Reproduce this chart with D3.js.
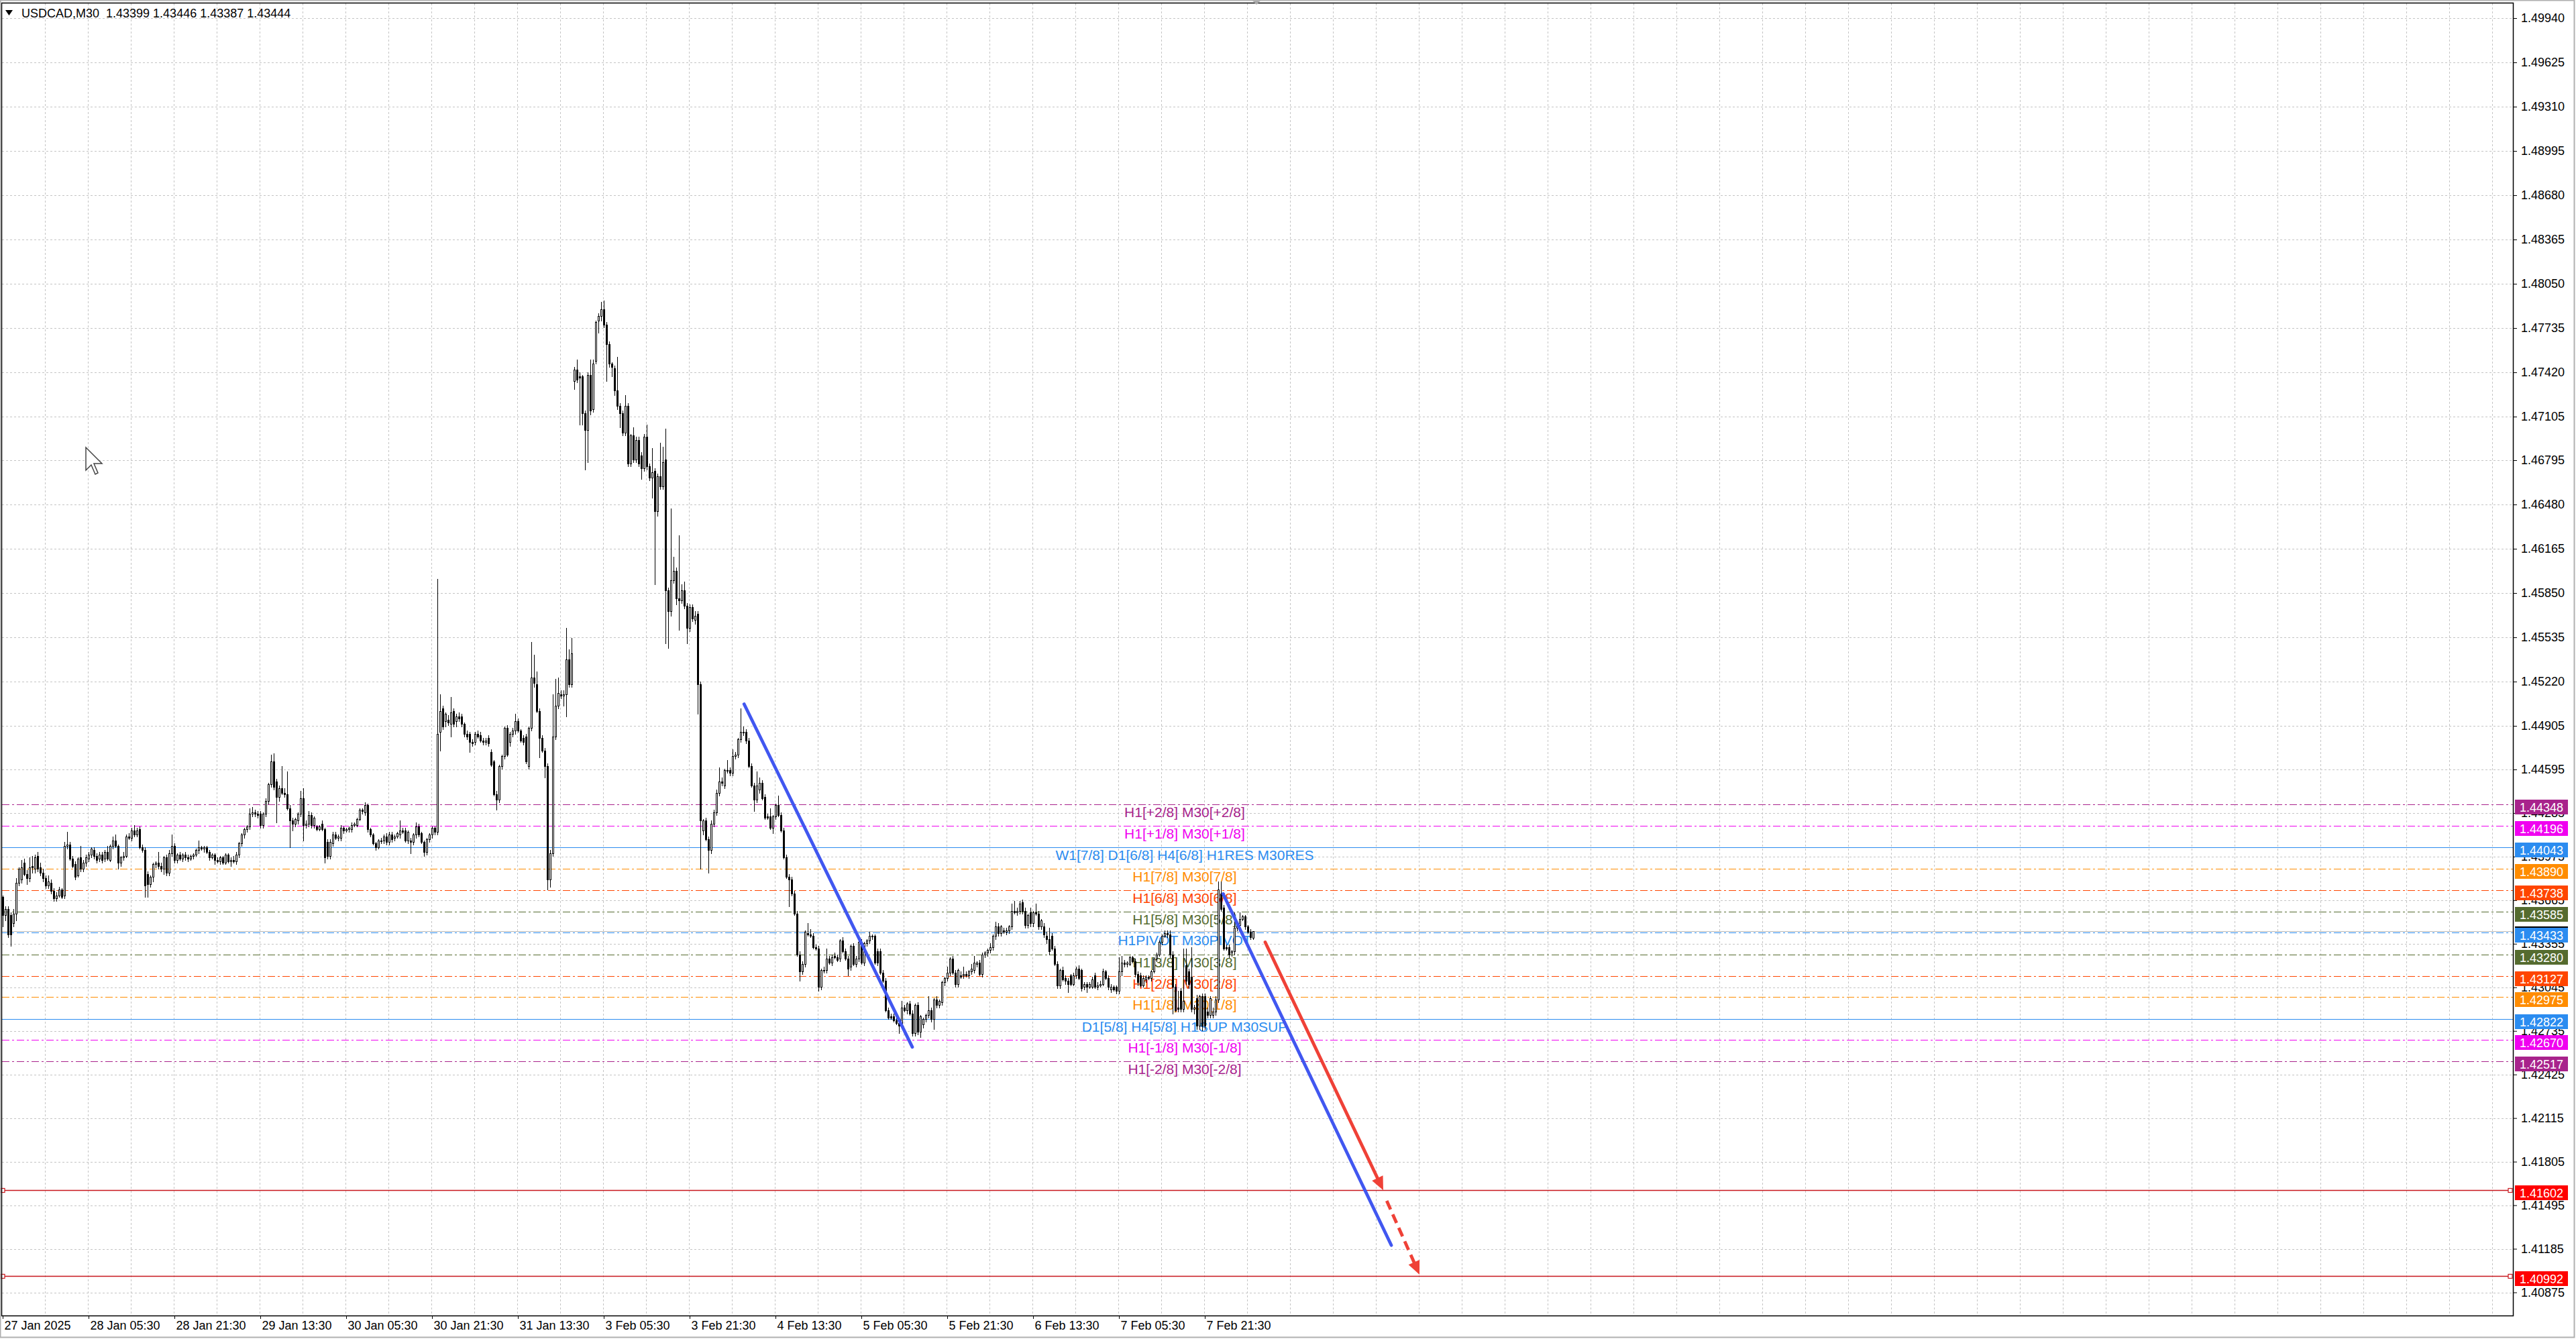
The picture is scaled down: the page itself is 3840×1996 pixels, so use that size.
<!DOCTYPE html>
<html>
<head>
<meta charset="utf-8">
<script src="https://cdn.jsdelivr.net/npm/d3@7"></script>
<style>
html, body { margin: 0; padding: 0; background: #fff; }
svg { display: block; font-family: "Liberation Sans", Arial, sans-serif; }
</style>
</head>
<body>
<div id="chart"></div>
<script>
// USDCAD M30 candles (bar 0 = first bar on the left)
const opens = [
  1.4369,1.4356,1.4360,1.4356,1.4350,1.4357,1.4379,1.4381,1.4393,1.4385,
  1.4382,1.4391,1.4389,1.4398,1.4390,1.4386,1.4382,1.4377,1.4379,1.4373,
  1.4368,1.4370,1.4374,1.4370,1.4405,1.4406,1.4396,1.4392,1.4384,1.4397,
  1.4389,1.4393,1.4396,1.4399,1.4402,1.4398,1.4396,1.4399,1.4396,1.4401,
  1.4395,1.4405,1.4409,1.4405,1.4393,1.4397,1.4398,1.4412,1.4411,1.4416,
  1.4413,1.4417,1.4404,1.4402,1.4385,1.4378,1.4383,1.4392,1.4393,1.4391,
  1.4389,1.4397,1.4386,1.4400,1.4405,1.4395,1.4399,1.4396,1.4399,1.4397,
  1.4396,1.4398,1.4399,1.4402,1.4404,1.4403,1.4404,1.4401,1.4397,1.4399,
  1.4395,1.4394,1.4397,1.4393,1.4399,1.4394,1.4395,1.4394,1.4399,1.4407,
  1.4413,1.4417,1.4419,1.4428,1.4429,1.4428,1.4428,1.4420,1.4428,1.4437,
  1.4449,1.4465,1.4451,1.4440,1.4446,1.4443,1.4442,1.4432,1.4423,1.4421,
  1.4423,1.4428,1.4439,1.4420,1.4421,1.4427,1.4420,1.4419,1.4417,1.4421,
  1.4417,1.4408,1.4398,1.4407,1.4413,1.4411,1.4411,1.4418,1.4416,1.4417,
  1.4417,1.4420,1.4420,1.4424,1.4431,1.4429,1.4434,1.4417,1.4413,1.4407,
  1.4404,1.4409,1.4409,1.4412,1.4408,1.4413,1.4411,1.4412,1.4413,1.4416,
  1.4416,1.4409,1.4409,1.4408,1.4413,1.4419,1.4414,1.4408,1.4401,1.4410,
  1.4413,1.4418,1.4415,1.4486,1.4503,1.4494,1.4495,1.4492,1.4501,1.4494,
  1.4497,1.4497,1.4492,1.4485,1.4485,1.4479,1.4479,1.4485,1.4484,1.4480,
  1.4479,1.4482,1.4472,1.4465,1.4442,1.4438,1.4462,1.4469,1.4489,1.4479,
  1.4485,1.4487,1.4494,1.4487,1.4482,1.4483,1.4462,1.4489,1.4525,1.4520,
  1.4501,1.4482,1.4473,1.4462,1.4381,1.4400,1.4483,1.4505,1.4513,1.4512,
  1.4513,1.4538,1.4520,1.4736,1.4744,1.4739,1.4739,1.4713,1.4701,1.4740,
  1.4716,1.4750,1.4779,1.4782,1.4787,1.4776,1.4762,1.4748,1.4745,1.4729,
  1.4718,1.4713,1.4699,1.4718,1.4677,1.4697,1.4680,1.4694,1.4683,1.4674,
  1.4696,1.4675,1.4667,1.4672,1.4643,1.4668,1.4661,1.4680,1.4587,1.4572,
  1.4594,1.4601,1.4581,1.4580,1.4587,1.4576,1.4560,1.4575,1.4566,1.4570,
  1.4520,1.4416,1.4423,1.4410,1.4402,1.4421,1.4429,1.4443,1.4451,1.4448,
  1.4459,1.4459,1.4457,1.4469,1.4470,1.4481,1.4486,1.4486,1.4480,1.4462,
  1.4448,1.4438,1.4445,1.4450,1.4440,1.4426,1.4426,1.4418,1.4426,1.4434,
  1.4427,1.4416,1.4397,1.4383,1.4381,1.4371,1.4357,1.4328,1.4316,1.4321,
  1.4343,1.4342,1.4341,1.4333,1.4332,1.4305,1.4317,1.4317,1.4325,1.4322,
  1.4327,1.4326,1.4325,1.4338,1.4330,1.4325,1.4319,1.4334,1.4321,1.4325,
  1.4337,1.4322,1.4336,1.4338,1.4341,1.4341,1.4330,1.4330,1.4315,1.4309,
  1.4288,1.4284,1.4284,1.4281,1.4279,1.4278,1.4290,1.4288,1.4293,1.4286,
  1.4272,1.4292,1.4273,1.4278,1.4282,1.4285,1.4288,1.4282,1.4296,1.4292,
  1.4294,1.4308,1.4311,1.4315,1.4325,1.4315,1.4307,1.4313,1.4313,1.4314,
  1.4313,1.4316,1.4317,1.4321,1.4322,1.4314,1.4328,1.4329,1.4331,1.4333,
  1.4341,1.4348,1.4343,1.4345,1.4344,1.4345,1.4348,1.4359,1.4358,1.4359,
  1.4365,1.4359,1.4349,1.4358,1.4350,1.4358,1.4357,1.4348,1.4348,1.4341,
  1.4339,1.4341,1.4332,1.4321,1.4306,1.4317,1.4311,1.4309,1.4313,1.4307,
  1.4313,1.4318,1.4317,1.4305,1.4307,1.4305,1.4305,1.4313,1.4305,1.4306,
  1.4307,1.4316,1.4311,1.4303,1.4305,1.4305,1.4302,1.4316,1.4322,1.4321,
  1.4321,1.4326,1.4323,1.4314,1.4313,1.4306,1.4310,1.4312,1.4311,1.4316,
  1.4325,1.4328,1.4337,1.4341,1.4343,1.4342,1.4328,1.4305,1.4290,1.4302,
  1.4289,1.4320,1.4316,1.4312,1.4289,1.4297,1.4277,1.4298,1.4298,1.4287,
  1.4285,1.4285,1.4287,1.4296,1.4371,1.4361,1.4333,1.4333,1.4329,1.4330,
  1.4347,1.4349,1.4353,1.4355,1.4348,1.4344,1.43399
];
const highs = [
  1.4370,1.4362,1.4362,1.4358,1.4360,1.4382,1.4390,1.4395,1.4396,1.4388,
  1.4397,1.4398,1.4399,1.4401,1.4393,1.4389,1.4384,1.4384,1.4381,1.4375,
  1.4372,1.4376,1.4375,1.4408,1.4415,1.4408,1.4398,1.4394,1.4397,1.4405,
  1.4395,1.4399,1.4401,1.4404,1.4404,1.4400,1.4401,1.4401,1.4402,1.4405,
  1.4406,1.4412,1.4413,1.4406,1.4398,1.4401,1.4413,1.4414,1.4418,1.4420,
  1.4418,1.4419,1.4406,1.4404,1.4387,1.4384,1.4393,1.4394,1.4401,1.4393,
  1.4398,1.4399,1.4402,1.4413,1.4407,1.4400,1.4401,1.4400,1.4401,1.4399,
  1.4399,1.4400,1.4403,1.4409,1.4405,1.4405,1.4405,1.4402,1.4400,1.4400,
  1.4397,1.4398,1.4398,1.4400,1.4400,1.4397,1.4398,1.4401,1.4408,1.4414,
  1.4418,1.4420,1.4432,1.4433,1.4431,1.4430,1.4430,1.4429,1.4439,1.4450,
  1.4470,1.4471,1.4453,1.4448,1.4462,1.4446,1.4458,1.4434,1.4425,1.4425,
  1.4429,1.4444,1.4446,1.4423,1.4430,1.4429,1.4426,1.4420,1.4420,1.4423,
  1.4418,1.4410,1.4410,1.4415,1.4415,1.4413,1.4420,1.4419,1.4418,1.4419,
  1.4422,1.4422,1.4425,1.4432,1.4432,1.4436,1.4435,1.4418,1.4414,1.4408,
  1.4410,1.4411,1.4413,1.4414,1.4415,1.4415,1.4413,1.4415,1.4423,1.4418,
  1.4418,1.4416,1.4411,1.4414,1.4422,1.4421,1.4415,1.4409,1.4411,1.4414,
  1.4419,1.4419,1.4595,1.4513,1.4505,1.4500,1.4498,1.4511,1.4503,1.4499,
  1.4500,1.4499,1.4493,1.4487,1.4486,1.4481,1.4486,1.4487,1.4486,1.4482,
  1.4482,1.4484,1.4474,1.4466,1.4444,1.4463,1.4470,1.4490,1.4491,1.4486,
  1.4489,1.4499,1.4496,1.4488,1.4484,1.4485,1.4490,1.4550,1.4541,1.4529,
  1.4503,1.4484,1.4475,1.4464,1.4402,1.4513,1.4524,1.4525,1.4516,1.4516,
  1.4560,1.4545,1.4553,1.4746,1.4751,1.4742,1.4740,1.4715,1.4742,1.4751,
  1.4751,1.4779,1.4784,1.4792,1.4793,1.4778,1.4764,1.4749,1.4747,1.4753,
  1.4720,1.4715,1.4726,1.4720,1.4698,1.4703,1.4696,1.4696,1.4685,1.4698,
  1.4705,1.4677,1.4688,1.4674,1.4670,1.4692,1.4689,1.4702,1.4589,1.4645,
  1.4611,1.4603,1.4626,1.4591,1.4593,1.4578,1.4577,1.4577,1.4572,1.4572,
  1.4522,1.4424,1.4425,1.4412,1.4423,1.4431,1.4445,1.4461,1.4454,1.4460,
  1.4466,1.4461,1.4474,1.4472,1.4482,1.4503,1.4490,1.4488,1.4482,1.4464,
  1.4450,1.4458,1.4454,1.4452,1.4442,1.4428,1.4432,1.4427,1.4435,1.4441,
  1.4429,1.4418,1.4399,1.4385,1.4383,1.4373,1.4359,1.4330,1.4323,1.4345,
  1.4350,1.4346,1.4343,1.4335,1.4334,1.4318,1.4319,1.4332,1.4327,1.4328,
  1.4329,1.4328,1.4339,1.4340,1.4332,1.4327,1.4335,1.4336,1.4327,1.4338,
  1.4339,1.4337,1.4339,1.4344,1.4342,1.4342,1.4332,1.4332,1.4317,1.4311,
  1.4290,1.4286,1.4286,1.4283,1.4281,1.4295,1.4292,1.4294,1.4295,1.4288,
  1.4293,1.4294,1.4285,1.4283,1.4286,1.4298,1.4290,1.4297,1.4298,1.4296,
  1.4309,1.4312,1.4319,1.4326,1.4327,1.4317,1.4318,1.4316,1.4319,1.4316,
  1.4317,1.4321,1.4327,1.4323,1.4324,1.4329,1.4330,1.4332,1.4336,1.4342,
  1.4351,1.4350,1.4349,1.4347,1.4347,1.4349,1.4364,1.4366,1.4361,1.4366,
  1.4367,1.4361,1.4357,1.4361,1.4359,1.4364,1.4359,1.4353,1.4350,1.4344,
  1.4347,1.4343,1.4334,1.4323,1.4318,1.4319,1.4313,1.4311,1.4314,1.4315,
  1.4319,1.4320,1.4318,1.4308,1.4308,1.4308,1.4312,1.4315,1.4308,1.4309,
  1.4318,1.4317,1.4313,1.4307,1.4306,1.4306,1.4326,1.4327,1.4324,1.4323,
  1.4327,1.4327,1.4325,1.4316,1.4315,1.4313,1.4313,1.4313,1.4317,1.4326,
  1.4329,1.4338,1.4342,1.4345,1.4345,1.4345,1.4330,1.4307,1.4302,1.4304,
  1.4332,1.4332,1.4318,1.4333,1.4292,1.4299,1.4299,1.4300,1.4300,1.4290,
  1.4298,1.4290,1.4298,1.4380,1.4380,1.4363,1.4335,1.4335,1.4331,1.4358,
  1.4350,1.4358,1.4356,1.4356,1.4349,1.4346,1.43446
];
const lows = [
  1.4348,1.4352,1.4340,1.4334,1.4348,1.4352,1.4377,1.4379,1.4384,1.4378,
  1.4380,1.4386,1.4386,1.4387,1.4384,1.4380,1.4375,1.4375,1.4371,1.4366,
  1.4366,1.4369,1.4368,1.4368,1.4403,1.4395,1.4390,1.4381,1.4383,1.4387,
  1.4387,1.4391,1.4394,1.4397,1.4396,1.4393,1.4394,1.4393,1.4394,1.4395,
  1.4394,1.4403,1.4404,1.4389,1.4391,1.4395,1.4397,1.4410,1.4409,1.4412,
  1.4412,1.4403,1.4401,1.4369,1.4369,1.4376,1.4380,1.4390,1.4389,1.4387,
  1.4385,1.4384,1.4384,1.4398,1.4393,1.4393,1.4395,1.4394,1.4395,1.4394,
  1.4395,1.4396,1.4398,1.4400,1.4402,1.4401,1.4400,1.4395,1.4396,1.4392,
  1.4393,1.4392,1.4392,1.4392,1.4393,1.4391,1.4393,1.4392,1.4397,1.4405,
  1.4411,1.4415,1.4417,1.4426,1.4426,1.4425,1.4418,1.4418,1.4426,1.4435,
  1.4447,1.4445,1.4422,1.4437,1.4442,1.4440,1.4431,1.4404,1.4416,1.4419,
  1.4421,1.4426,1.4409,1.4418,1.4419,1.4418,1.4418,1.4416,1.4416,1.4416,
  1.4393,1.4396,1.4396,1.4405,1.4410,1.4409,1.4409,1.4414,1.4415,1.4415,
  1.4415,1.4419,1.4419,1.4423,1.4428,1.4427,1.4415,1.4412,1.4406,1.4402,
  1.4403,1.4407,1.4407,1.4406,1.4406,1.4408,1.4409,1.4411,1.4411,1.4414,
  1.4408,1.4407,1.4400,1.4406,1.4411,1.4412,1.4407,1.4398,1.4399,1.4408,
  1.4411,1.4413,1.4413,1.4473,1.4488,1.4490,1.4491,1.4483,1.4490,1.4490,
  1.4494,1.4490,1.4483,1.4481,1.4472,1.4476,1.4477,1.4482,1.4479,1.4477,
  1.4477,1.4476,1.4462,1.4441,1.4431,1.4436,1.4460,1.4467,1.4469,1.4476,
  1.4483,1.4485,1.4486,1.4479,1.4477,1.4464,1.4460,1.4487,1.4518,1.4500,
  1.4468,1.4472,1.4454,1.4374,1.4376,1.4398,1.4481,1.4503,1.4510,1.4505,
  1.4497,1.4518,1.4518,1.4730,1.4735,1.4705,1.4705,1.4673,1.4678,1.4712,
  1.4714,1.4748,1.4770,1.4779,1.4774,1.4736,1.4746,1.4739,1.4726,1.4716,
  1.4703,1.4697,1.4697,1.4675,1.4675,1.4678,1.4678,1.4675,1.4666,1.4672,
  1.4673,1.4665,1.4653,1.4591,1.4640,1.4659,1.4659,1.4549,1.4546,1.4569,
  1.4592,1.4577,1.4559,1.4578,1.4574,1.4549,1.4558,1.4565,1.4563,1.4499,
  1.4389,1.4413,1.4409,1.4386,1.4400,1.4419,1.4427,1.4441,1.4448,1.4446,
  1.4457,1.4455,1.4455,1.4467,1.4468,1.4479,1.4484,1.4478,1.4461,1.4447,
  1.4430,1.4436,1.4443,1.4438,1.4424,1.4424,1.4417,1.4414,1.4424,1.4426,
  1.4415,1.4396,1.4382,1.4362,1.4370,1.4356,1.4327,1.4309,1.4314,1.4319,
  1.4341,1.4340,1.4332,1.4331,1.4302,1.4303,1.4315,1.4315,1.4321,1.4320,
  1.4325,1.4323,1.4323,1.4329,1.4324,1.4313,1.4317,1.4320,1.4319,1.4323,
  1.4321,1.4320,1.4334,1.4336,1.4339,1.4321,1.4320,1.4314,1.4308,1.4287,
  1.4282,1.4282,1.4280,1.4278,1.4272,1.4276,1.4287,1.4286,1.4285,1.4270,
  1.4270,1.4271,1.4269,1.4276,1.4280,1.4283,1.4280,1.4275,1.4290,1.4290,
  1.4292,1.4306,1.4309,1.4313,1.4314,1.4305,1.4305,1.4311,1.4311,1.4312,
  1.4311,1.4314,1.4315,1.4319,1.4313,1.4312,1.4326,1.4327,1.4329,1.4331,
  1.4339,1.4341,1.4341,1.4343,1.4342,1.4343,1.4346,1.4357,1.4356,1.4357,
  1.4357,1.4347,1.4347,1.4348,1.4348,1.4356,1.4346,1.4346,1.4340,1.4336,
  1.4328,1.4331,1.4320,1.4304,1.4304,1.4309,1.4307,1.4301,1.4306,1.4306,
  1.4311,1.4310,1.4302,1.4303,1.4301,1.4304,1.4304,1.4304,1.4303,1.4305,
  1.4306,1.4310,1.4303,1.4301,1.4302,1.4300,1.4300,1.4313,1.4319,1.4319,
  1.4320,1.4322,1.4312,1.4306,1.4305,1.4305,1.4308,1.4310,1.4309,1.4315,
  1.4323,1.4327,1.4335,1.4340,1.4340,1.4326,1.4286,1.4287,1.4287,1.4287,
  1.4287,1.4307,1.4304,1.4287,1.4286,1.4275,1.4275,1.4274,1.4275,1.4283,
  1.4283,1.4283,1.4285,1.4294,1.4359,1.4331,1.4331,1.4326,1.4327,1.4328,
  1.4345,1.4347,1.4352,1.4346,1.4343,1.4339,1.43387
];
const closes = [
  1.4356,1.4360,1.4342,1.4342,1.4357,1.4379,1.4389,1.4390,1.4385,1.4382,
  1.4390,1.4390,1.4397,1.4389,1.4386,1.4382,1.4377,1.4380,1.4373,1.4368,
  1.4370,1.4374,1.4369,1.4405,1.4406,1.4396,1.4391,1.4383,1.4396,1.4389,
  1.4393,1.4397,1.4399,1.4403,1.4398,1.4395,1.4399,1.4395,1.4401,1.4396,
  1.4405,1.4409,1.4405,1.4393,1.4397,1.4398,1.4412,1.4411,1.4416,1.4413,
  1.4416,1.4404,1.4402,1.4377,1.4378,1.4383,1.4392,1.4393,1.4391,1.4389,
  1.4397,1.4386,1.4400,1.4405,1.4395,1.4399,1.4396,1.4399,1.4397,1.4396,
  1.4398,1.4399,1.4402,1.4404,1.4403,1.4404,1.4401,1.4397,1.4399,1.4395,
  1.4394,1.4397,1.4393,1.4399,1.4394,1.4395,1.4394,1.4399,1.4407,1.4413,
  1.4417,1.4419,1.4428,1.4429,1.4428,1.4427,1.4420,1.4428,1.4437,1.4449,
  1.4465,1.4447,1.4440,1.4446,1.4443,1.4442,1.4432,1.4423,1.4421,1.4424,
  1.4428,1.4439,1.4420,1.4421,1.4427,1.4420,1.4425,1.4417,1.4419,1.4417,
  1.4397,1.4398,1.4408,1.4413,1.4411,1.4412,1.4418,1.4416,1.4417,1.4418,
  1.4420,1.4421,1.4424,1.4431,1.4430,1.4434,1.4417,1.4413,1.4407,1.4404,
  1.4409,1.4409,1.4412,1.4408,1.4413,1.4410,1.4412,1.4414,1.4416,1.4415,
  1.4409,1.4415,1.4408,1.4413,1.4419,1.4413,1.4408,1.4401,1.4410,1.4413,
  1.4418,1.4415,1.4485,1.4501,1.4490,1.4499,1.4493,1.4500,1.4492,1.4497,
  1.4496,1.4492,1.4485,1.4483,1.4479,1.4478,1.4485,1.4483,1.4480,1.4479,
  1.4480,1.4478,1.4463,1.4442,1.4438,1.4462,1.4469,1.4489,1.4470,1.4485,
  1.4487,1.4494,1.4487,1.4480,1.4479,1.4465,1.4489,1.4525,1.4521,1.4501,
  1.4482,1.4473,1.4462,1.4381,1.4400,1.4483,1.4505,1.4514,1.4512,1.4513,
  1.4538,1.4520,1.4542,1.4744,1.4737,1.4738,1.4713,1.4701,1.4740,1.4715,
  1.4748,1.4778,1.4782,1.4787,1.4776,1.4762,1.4748,1.4746,1.4729,1.4718,
  1.4713,1.4699,1.4718,1.4677,1.4697,1.4680,1.4694,1.4677,1.4674,1.4696,
  1.4675,1.4667,1.4671,1.4643,1.4668,1.4661,1.4678,1.4587,1.4572,1.4594,
  1.4601,1.4581,1.4580,1.4587,1.4576,1.4560,1.4575,1.4567,1.4569,1.4520,
  1.4423,1.4423,1.4410,1.4402,1.4421,1.4429,1.4443,1.4451,1.4450,1.4459,
  1.4459,1.4457,1.4469,1.4470,1.4481,1.4486,1.4486,1.4480,1.4462,1.4448,
  1.4438,1.4448,1.4450,1.4439,1.4425,1.4425,1.4418,1.4426,1.4434,1.4427,
  1.4416,1.4397,1.4383,1.4381,1.4371,1.4357,1.4328,1.4316,1.4321,1.4344,
  1.4342,1.4341,1.4333,1.4332,1.4305,1.4317,1.4317,1.4325,1.4322,1.4326,
  1.4326,1.4324,1.4338,1.4330,1.4325,1.4318,1.4334,1.4321,1.4325,1.4337,
  1.4322,1.4336,1.4338,1.4341,1.4341,1.4322,1.4322,1.4315,1.4309,1.4288,
  1.4283,1.4283,1.4281,1.4279,1.4277,1.4290,1.4288,1.4293,1.4286,1.4272,
  1.4292,1.4273,1.4284,1.4282,1.4285,1.4288,1.4282,1.4296,1.4292,1.4295,
  1.4308,1.4311,1.4315,1.4325,1.4315,1.4307,1.4317,1.4312,1.4314,1.4313,
  1.4316,1.4318,1.4322,1.4322,1.4314,1.4328,1.4329,1.4331,1.4333,1.4341,
  1.4348,1.4343,1.4348,1.4344,1.4345,1.4348,1.4359,1.4358,1.4359,1.4364,
  1.4359,1.4349,1.4356,1.4350,1.4358,1.4357,1.4348,1.4352,1.4342,1.4339,
  1.4330,1.4332,1.4321,1.4306,1.4317,1.4310,1.4309,1.4307,1.4307,1.4313,
  1.4318,1.4311,1.4304,1.4307,1.4305,1.4307,1.4310,1.4305,1.4306,1.4307,
  1.4316,1.4311,1.4305,1.4305,1.4303,1.4302,1.4316,1.4322,1.4321,1.4322,
  1.4326,1.4323,1.4314,1.4308,1.4306,1.4311,1.4312,1.4311,1.4316,1.4325,
  1.4328,1.4337,1.4341,1.4343,1.4342,1.4328,1.4305,1.4288,1.4289,1.4289,
  1.4295,1.4309,1.4307,1.4289,1.4290,1.4277,1.4298,1.4277,1.4277,1.4285,
  1.4297,1.4287,1.4296,1.4374,1.4360,1.4332,1.4332,1.4328,1.4330,1.4347,
  1.4349,1.4353,1.4355,1.4348,1.4344,1.4340,1.43444
];

const priceTicks = [1.49940, 1.49625, 1.49310, 1.48995, 1.48680, 1.48365, 1.48050, 1.47735,
  1.47420, 1.47105, 1.46795, 1.46480, 1.46165, 1.45850, 1.45535, 1.45220, 1.44905, 1.44595,
  1.44285, 1.43975, 1.43665, 1.43355, 1.43045, 1.42735, 1.42425, 1.42115, 1.41805, 1.41495,
  1.41185, 1.40875];
const timeLabels = ["27 Jan 2025", "28 Jan 05:30", "28 Jan 21:30", "29 Jan 13:30", "30 Jan 05:30",
  "30 Jan 21:30", "31 Jan 13:30", "3 Feb 05:30", "3 Feb 21:30", "4 Feb 13:30", "5 Feb 05:30",
  "5 Feb 21:30", "6 Feb 13:30", "7 Feb 05:30", "7 Feb 21:30"];

// murrey math levels
const levelPrices = [1.44348, 1.44196, 1.44043, 1.43890, 1.43738, 1.43585, 1.43433,
  1.43280, 1.43127, 1.42975, 1.42822, 1.42670, 1.42517];
const levelNames = ["H1[+2/8] M30[+2/8]", "H1[+1/8] M30[+1/8]", "W1[7/8] D1[6/8] H4[6/8] H1RES M30RES",
  "H1[7/8] M30[7/8]", "H1[6/8] M30[6/8]", "H1[5/8] M30[5/8]", "H1PIVOT M30PIVOT",
  "H1[3/8] M30[3/8]", "H1[2/8] M30[2/8]", "H1[1/8] M30[1/8]", "D1[5/8] H4[5/8] H1SUP M30SUP",
  "H1[-1/8] M30[-1/8]", "H1[-2/8] M30[-2/8]"];

const bidPrice = 1.43444;
const targetPrices = [1.41602, 1.40992];

// drawn objects: [bar, price, bar, price]
const blueTrends = [[276.3, 1.4506, 339.0, 1.4262], [454.8, 1.4371, 517.5, 1.4121]];
const redArrow = [470.5, 1.43366, 514.5, 1.41602];
const redDashedArrow = [515.8, 1.41526, 528.0, 1.41002];

// styles
const levelColors = ["#a8238c", "#f000f0", "#2b8cf0", "#ff8c00", "#ff4500", "#556b2f", "#2b8cf0",
  "#556b2f", "#ff4500", "#ff8c00", "#2b8cf0", "#f000f0", "#a8238c"];
const levelSolid = [false, false, true, false, false, false, false, false, false, false, true, false, false];

const width = 3840, height = 1996;
const plot = { left: 3, top: 5, right: 3747, bottom: 1962 };

const x = d3.scaleLinear().domain([0, 466]).range([4, 1868]);
const y = d3.scaleLinear().domain([1.40875, 1.49940]).range([1926.5, 27]);
const ry = p => Math.round(y(p));

const svg = d3.select("#chart").append("svg")
    .attr("width", width)
    .attr("height", height);

svg.append("rect").attr("width", width).attr("height", height).attr("fill", "#fff");

// grid
const grid = svg.append("g")
    .attr("stroke", "#c4c4c4")
    .attr("stroke-dasharray", "3,3")
    .attr("shape-rendering", "crispEdges");
grid.selectAll("line.v")
    .data(d3.range(16, 936, 16))
    .join("line")
    .attr("x1", d => Math.round(x(d)) - 0.5)
    .attr("x2", d => Math.round(x(d)) - 0.5)
    .attr("y1", plot.top)
    .attr("y2", plot.bottom);
grid.selectAll("line.h")
    .data(priceTicks)
    .join("line")
    .attr("x1", plot.left)
    .attr("x2", plot.right)
    .attr("y1", d => ry(d) + 0.5)
    .attr("y2", d => ry(d) + 0.5);

// level lines
svg.append("g")
    .attr("shape-rendering", "crispEdges")
    .selectAll("line")
    .data(levelPrices)
    .join("line")
    .attr("x1", plot.left)
    .attr("x2", plot.right)
    .attr("y1", d => ry(d) + 0.5)
    .attr("y2", d => ry(d) + 0.5)
    .attr("stroke", (d, i) => levelColors[i])
    .attr("stroke-width", 1.2)
    .attr("stroke-dasharray", (d, i) => levelSolid[i] ? null : "11,4,3,4");

// bid line
svg.append("line")
    .attr("x1", plot.left).attr("x2", plot.right)
    .attr("y1", ry(bidPrice) + 0.5).attr("y2", ry(bidPrice) + 0.5)
    .attr("stroke", "#b8b8b8")
    .attr("shape-rendering", "crispEdges");

// target lines
const targets = svg.append("g");
targets.selectAll("line")
    .data(targetPrices)
    .join("line")
    .attr("x1", plot.left).attr("x2", plot.right - 4)
    .attr("y1", d => ry(d) + 0.5).attr("y2", d => ry(d) + 0.5)
    .attr("stroke", "#c8161d")
    .attr("stroke-width", 1.3);
targets.selectAll("rect")
    .data(targetPrices.flatMap(p => [[plot.left + 1, p], [plot.right - 5, p]]))
    .join("rect")
    .attr("x", d => d[0] - 3)
    .attr("y", d => ry(d[1]) - 2.5)
    .attr("width", 6).attr("height", 6)
    .attr("fill", "#fff")
    .attr("stroke", "#c8161d")
    .attr("stroke-width", 1.2);

// level texts
svg.append("g")
    .attr("font-size", 21)
    .attr("text-anchor", "middle")
    .selectAll("text")
    .data(levelPrices)
    .join("text")
    .attr("x", x(440.5))
    .attr("y", d => ry(d) + 19)
    .attr("fill", (d, i) => levelColors[i])
    .text((d, i) => levelNames[i]);

// candles
const idx = d3.range(closes.length);
const candles = svg.append("g").attr("shape-rendering", "crispEdges");
candles.selectAll("line")
    .data(idx)
    .join("line")
    .attr("x1", i => Math.round(x(i)) + 0.5)
    .attr("x2", i => Math.round(x(i)) + 0.5)
    .attr("y1", i => ry(highs[i]))
    .attr("y2", i => ry(lows[i]) + 1)
    .attr("stroke", "#000");
candles.selectAll("rect")
    .data(idx)
    .join("rect")
    .attr("x", i => Math.round(x(i)) - 0.5)
    .attr("y", i => ry(Math.max(opens[i], closes[i])) + 0.5)
    .attr("width", 2)
    .attr("height", i => Math.max(1, ry(Math.min(opens[i], closes[i])) - ry(Math.max(opens[i], closes[i]))))
    .attr("fill", i => closes[i] >= opens[i] ? "#fff" : "#000")
    .attr("stroke", "#000");

// trend lines
svg.append("g")
    .selectAll("line")
    .data(blueTrends)
    .join("line")
    .attr("x1", d => x(d[0])).attr("y1", d => y(d[1]))
    .attr("x2", d => x(d[2])).attr("y2", d => y(d[3]))
    .attr("stroke", "#4157f0")
    .attr("stroke-width", 4.8)
    .attr("stroke-linecap", "round");

function arrow(d, dashed) {
  const x1 = x(d[0]), y1 = y(d[1]), x2 = x(d[2]), y2 = y(d[3]);
  const len = Math.hypot(x2 - x1, y2 - y1);
  const ux = (x2 - x1) / len, uy = (y2 - y1) / len;
  const head = 20, half = 9;
  const bx = x2 - ux * head, by = y2 - uy * head;
  const g = svg.append("g");
  g.append("line")
      .attr("x1", x1).attr("y1", y1)
      .attr("x2", bx + ux * 2).attr("y2", by + uy * 2)
      .attr("stroke", "#ef4137")
      .attr("stroke-width", 4.8)
      .attr("stroke-linecap", dashed ? "butt" : "round")
      .attr("stroke-dasharray", dashed ? "14,8" : null);
  g.append("path")
      .attr("d", `M${x2},${y2}L${bx - uy * half},${by + ux * half}L${bx + uy * half},${by - ux * half}Z`)
      .attr("fill", "#ef4137");
}
arrow(redArrow, false);
arrow(redDashedArrow, true);

// frame
svg.append("rect")
    .attr("x", plot.left - 0.5).attr("y", plot.top - 0.5)
    .attr("width", plot.right - plot.left).attr("height", plot.bottom - plot.top)
    .attr("fill", "none")
    .attr("stroke", "#000")
    .attr("stroke-width", 1.5);

// price axis
const yAxis = svg.append("g")
    .attr("transform", `translate(${plot.right},0)`)
    .call(d3.axisRight(y).tickValues(priceTicks).tickSize(5).tickPadding(6).tickFormat(d3.format(".5f")));
yAxis.select(".domain").remove();
yAxis.attr("font-size", 18).attr("font-family", null);
yAxis.selectAll("text").attr("fill", "#000");

// time axis
const xAxis = svg.append("g")
    .attr("transform", `translate(0,${plot.bottom})`)
    .call(d3.axisBottom(x).tickValues(timeLabels.map((d, i) => i * 32)).tickSize(4)
        .tickFormat((d, i) => timeLabels[i]));
xAxis.select(".domain").remove();
xAxis.attr("font-size", 18).attr("font-family", null);
xAxis.selectAll("text").attr("text-anchor", "start").attr("x", 2).attr("fill", "#000");

// price boxes on the axis, each box drawn with its own text so later boxes cover earlier ones
const boxPrices = [bidPrice, ...levelPrices, ...targetPrices];
const boxColors = ["#000", ...levelColors, "#ff0000", "#ff0000"];
const boxes = svg.append("g")
    .attr("font-size", 18)
    .selectAll("g")
    .data(boxPrices)
    .join("g")
    .attr("transform", d => `translate(${plot.right + 2},${ry(d)})`);
boxes.append("rect")
    .attr("y", -7)
    .attr("width", 79)
    .attr("height", 22)
    .attr("fill", (d, i) => boxColors[i]);
boxes.append("text")
    .attr("x", 7)
    .attr("y", 11)
    .attr("fill", "#fff")
    .text(d => d3.format(".5f")(d));

// header
svg.append("path").attr("d", "M8,15L19,15L13.5,23Z").attr("fill", "#000");
svg.append("text")
    .attr("x", 32).attr("y", 26)
    .attr("font-size", 18)
    .attr("xml:space", "preserve")
    .style("white-space", "pre")
    .text("USDCAD,M30  1.43399 1.43446 1.43387 1.43444");

// shift marker and mouse pointer
svg.append("path").attr("d", "M1866,0L1880,0L1873,7Z").attr("fill", "#a8a8a8");
svg.append("path")
    .attr("d", "M128,667L128,701L136,693L142,707L146,705L140,691L152,691Z")
    .attr("fill", "#fff")
    .attr("stroke", "#444")
    .attr("stroke-width", 1.5);

// window border
svg.append("rect")
    .attr("x", 0.5).attr("y", 0.5)
    .attr("width", width - 3).attr("height", height - 3)
    .attr("fill", "none")
    .attr("stroke", "#b0b0b0")
    .attr("stroke-width", 2);
</script>
</body>
</html>
